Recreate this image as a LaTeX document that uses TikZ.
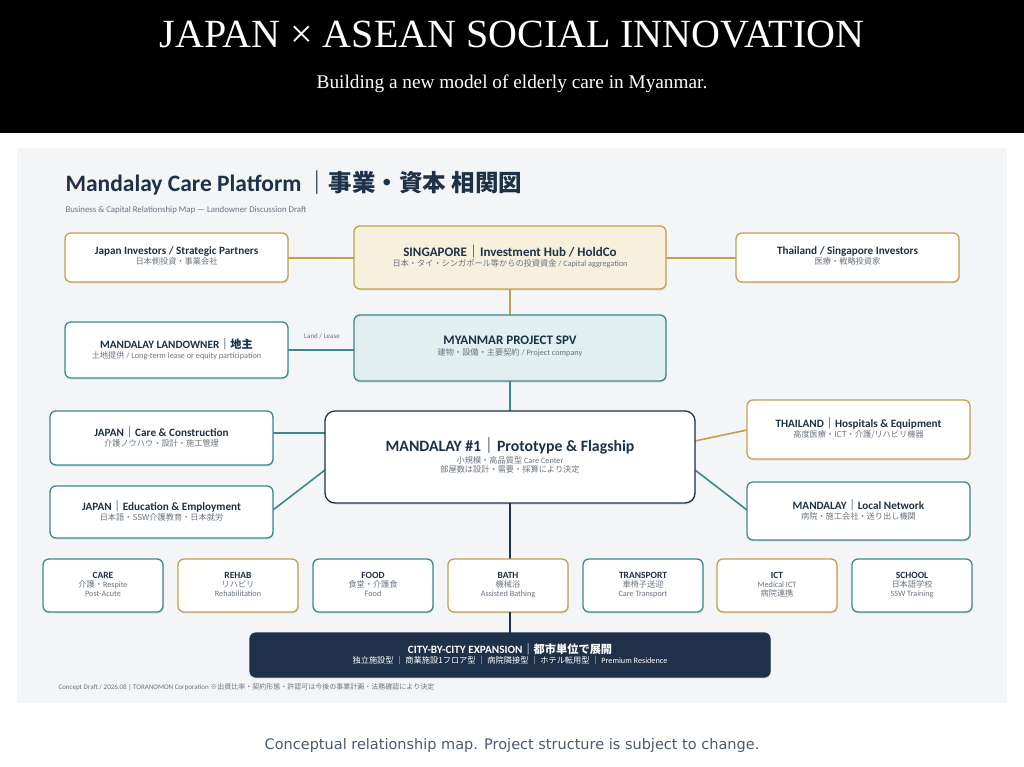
\documentclass[tikz,border=0pt]{standalone}
\usepackage{fontspec}
\setmainfont{Carlito}
\newfontfamily\serifx{Liberation Serif}
\newfontfamily\capx{DejaVu Sans}
\newfontfamily\cjk{Noto Sans CJK JP}
\usetikzlibrary{shadows}
\definecolor{navy}{HTML}{1E3148}
\definecolor{teal}{HTML}{3A8A8C}
\definecolor{gold}{HTML}{C2A050}
\definecolor{goldfill}{HTML}{F7F0DC}
\definecolor{tealfill}{HTML}{E2EFF0}
\definecolor{panel}{HTML}{F4F5F7}
\definecolor{sub}{HTML}{6A7480}
\newcommand{\J}[1]{{\cjk #1}}
\newcommand{\Hd}[1]{{\fontsize{11.2}{13}\selectfont\bfseries\color{navy}#1}}
\newcommand{\Sb}[1]{{\fontsize{8.2}{10}\selectfont\color{sub}#1}}
\begin{document}
\begin{tikzpicture}[x=1pt,y=-1pt,
  box/.style={draw, line width=1.3pt, rounded corners=6pt, fill=white, align=center, inner sep=0pt,
     drop shadow={shadow xshift=0.8pt,shadow yshift=-1.5pt,opacity=0.18}},
  bt/.style={box, draw=teal},
  bg/.style={box, draw=gold},
  tl/.style={draw=teal, line width=1.6pt},
  gl/.style={draw=gold, line width=1.6pt},
]
\useasboundingbox (0,0) rectangle (1024,766);
\fill[white] (0,0) rectangle (1024,766);
\fill[black] (0,0) rectangle (1024,133);
\node[text=white, font=\serifx\fontsize{40}{42}\selectfont] (h1) at (512,35) {JAPAN \texttimes\ ASEAN SOCIAL INNOVATION};
\node[text=white, font=\serifx\fontsize{19.3}{21}\selectfont] (h2) at (512,84) {Building a new model of elderly care in Myanmar.};
\fill[panel] (17,148) rectangle (1007,703);
\node[anchor=west, text=navy, font=\fontsize{23.5}{25}\selectfont\bfseries] (title) at (62,183) {Mandalay Care Platform\,\J{｜事業・資本 相関図}};
\node[anchor=west, text=sub, font=\fontsize{8.8}{10}\selectfont] (subt) at (62,210) {Business \& Capital Relationship Map — Landowner Discussion Draft};

% connectors (drawn first)
\coordinate (v1) at (510,289); \coordinate (v2) at (510,315);
\draw[gl] (288,258) -- (354,258);
\draw[gl] (666,258) -- (736,258);
\draw[gl] (v1) -- (v2);
\draw[tl] (288,350) -- (354,350);
\draw[tl] (510,381) -- (510,411);
\draw[tl] (273,433) -- (325,433);
\draw[tl] (273,510) -- (325,470);
\draw[gl] (695,441) -- (747,430);
\draw[tl] (695,470) -- (747,510);
\draw[navy, line width=1.3pt] (510,503) -- (510,633);

% top row
\node[bg, minimum width=223pt, minimum height=49pt] (jinv) at (176.5,257.5)
 {\begin{tabular}{c}\Hd{Japan Investors / Strategic Partners}\\[-2pt]\Sb{\J{日本側投資・事業会社}}\end{tabular}};
\node[bg, fill=goldfill, minimum width=312pt, minimum height=63pt] (sg) at (510,257.5)
 {\begin{tabular}{c}{\fontsize{13}{15}\selectfont\bfseries\color{navy}SINGAPORE\J{｜}Investment Hub / HoldCo}\\[-2pt]\Sb{\J{日本・タイ・シンガポール等からの投資資金} / Capital aggregation}\end{tabular}};
\node[bg, minimum width=223pt, minimum height=49pt] (thinv) at (847.5,257.5)
 {\begin{tabular}{c}\Hd{Thailand / Singapore Investors}\\[-2pt]\Sb{\J{医療・戦略投資家}}\end{tabular}};

% second row
\node[bt, minimum width=223pt, minimum height=56pt] (land) at (176.5,350)
 {\begin{tabular}{c}\Hd{MANDALAY LANDOWNER\J{｜地主}}\\[-2pt]\Sb{\J{土地提供} / Long-term lease or equity participation}\end{tabular}};
\node[bt, fill=tealfill, minimum width=312pt, minimum height=66pt] (spv) at (510,348)
 {\begin{tabular}{c}{\fontsize{13}{15}\selectfont\bfseries\color{navy}MYANMAR PROJECT SPV}\\[-1pt]\Sb{\J{建物・設備・主要契約} / Project company}\end{tabular}};
\node[text=sub, font=\fontsize{7}{8}\selectfont] (ll) at (322,336) {Land / Lease};

% centre
\node[box, draw=navy, minimum width=370pt, minimum height=92pt, rounded corners=10pt] (m1) at (510,457)
 {\begin{tabular}{c}{\fontsize{15.8}{18}\selectfont\bfseries\color{navy}MANDALAY \#1\J{｜}Prototype \& Flagship}\\[0pt]\Sb{\J{小規模・高品質型} Care Center}\\[-3pt]\Sb{\J{部屋数は設計・需要・採算により決定}}\end{tabular}};
\node[bt, minimum width=223pt, minimum height=54pt] (jcare) at (161.5,438)
 {\begin{tabular}{c}\Hd{JAPAN\J{｜}Care \& Construction}\\[-2pt]\Sb{\J{介護ノウハウ・設計・施工管理}}\end{tabular}};
\node[bt, minimum width=223pt, minimum height=52pt] (jedu) at (161.5,512)
 {\begin{tabular}{c}\Hd{JAPAN\J{｜}Education \& Employment}\\[-2pt]\Sb{\J{日本語・SSW介護教育・日本就労}}\end{tabular}};
\node[bg, minimum width=223pt, minimum height=59pt] (thh) at (858.5,429.5)
 {\begin{tabular}{c}\Hd{THAILAND\J{｜}Hospitals \& Equipment}\\[-2pt]\Sb{\J{高度医療・ICT・介護/リハビリ機器}}\end{tabular}};
\node[bt, minimum width=223pt, minimum height=58pt] (mln) at (858.5,511)
 {\begin{tabular}{c}\Hd{MANDALAY\J{｜}Local Network}\\[-2pt]\Sb{\J{病院・施工会社・送り出し機関}}\end{tabular}};

% bottom row
\newcommand{\svc}[6]{\node[#1, minimum width=120pt, minimum height=53pt] (#2) at (#3,585.5)
 {\begin{tabular}{c}{\fontsize{9.5}{11}\selectfont\bfseries\color{navy}#4}\\[-3pt]\Sb{#5}\\[-3pt]\Sb{#6}\end{tabular}};}
\svc{bt}{care}{103}{CARE}{\J{介護・}Respite}{Post-Acute}
\svc{bg}{rehab}{238}{REHAB}{\J{リハビリ}}{Rehabilitation}
\svc{bt}{food}{373}{FOOD}{\J{食堂・介護食}}{Food}
\svc{bg}{bath}{508}{BATH}{\J{機械浴}}{Assisted Bathing}
\svc{bt}{trans}{643}{TRANSPORT}{\J{車椅子送迎}}{Care Transport}
\svc{bg}{ict}{777}{ICT}{Medical ICT}{\J{病院連携}}
\svc{bt}{school}{912}{SCHOOL}{\J{日本語学校}}{SSW Training}
\draw[navy, line width=1.3pt] (510,612) -- (510,633);

\node[box, draw=navy, fill=navy, minimum width=520pt, minimum height=44pt] (exp) at (510,655)
 {\begin{tabular}{c}{\fontsize{11.2}{13}\selectfont\bfseries\color{white}CITY-BY-CITY EXPANSION\J{｜都市単位で展開}}\\[-2pt]{\fontsize{8.2}{10}\selectfont\color{white}\J{独立施設型 ｜ 商業施設1フロア型 ｜ 病院隣接型 ｜ ホテル転用型 ｜} Premium Residence}\end{tabular}};
\node[anchor=west, text=sub, font=\fontsize{7}{8}\selectfont] (foot) at (55,687) {Concept Draft / 2026.08 | TORANOMON Corporation \J{※出資比率・契約形態・許認可は今後の事業計画・法務確認により決定}};
\node[text=navy!80, font=\capx\fontsize{14.5}{16}\selectfont] (cap) at (512,745) {Conceptual relationship map. Project structure is subject to change.};
\end{tikzpicture}
\end{document}
